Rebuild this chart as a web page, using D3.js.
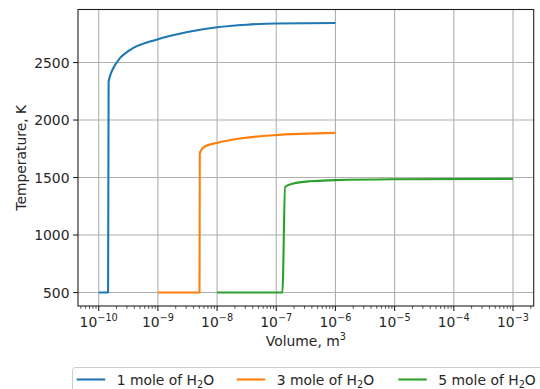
<!DOCTYPE html>
<html>
<head>
<meta charset="utf-8">
<script src="https://cdn.jsdelivr.net/npm/d3@7"></script>
<style>
  html, body { margin: 0; padding: 0; background: #fff; }
  svg { display: block; font-family: "DejaVu Sans", sans-serif; }
</style>
</head>
<body>
<svg id="chart" width="540" height="389"></svg>
<script>
// Temperature reached versus confinement volume for three water amounts
const seriesNames = ["1 mole of H", "3 mole of H", "5 mole of H"];
const seriesColors = ["#1f77b4", "#ff7f0e", "#2ca02c"];

const volume1 = [1e-10, 1.44e-10, 1.47e-10, 1.57e-10, 1.75e-10, 2.3e-10, 3.16e-10, 1e-9, 3.16e-9, 1e-8, 3.16e-8, 1e-7, 1e-6];
const temp1   = [500, 500, 2331, 2390, 2448, 2540, 2600, 2703, 2766, 2807, 2829, 2840, 2844];

const volume3 = [1e-9, 5.05e-9, 5.1e-9, 5.41e-9, 6.3e-9, 9.93e-9, 2.45e-8, 8.93e-8, 1e-6];
const temp3   = [500, 500, 1709, 1740, 1772, 1801, 1839, 1868, 1888];

const volume5 = [1e-8, 1.27e-7, 1.41e-7, 1.94e-7, 3.72e-7, 1.0e-6, 9.4e-6, 1e-3];
const temp5   = [500, 500, 1418, 1448, 1468, 1477, 1485, 1488];

const xTickExponents = [-10, -9, -8, -7, -6, -5, -4, -3];
const yTicks = [500, 1000, 1500, 2000, 2500];

const series = [
  { name: seriesNames[0], color: seriesColors[0], v: volume1, t: temp1 },
  { name: seriesNames[1], color: seriesColors[1], v: volume3, t: temp3 },
  { name: seriesNames[2], color: seriesColors[2], v: volume5, t: temp5 }
];

const svg = d3.select("#chart");
const plot = { left: 78, top: 9.5, right: 533.7, bottom: 306 };
const fontSize = 13.9;

// Domains padded by 5% like the default autoscale
const xLo = Math.log10(1e-10), xHi = Math.log10(1e-3);
const xPad = (xHi - xLo) * 0.05;
const x = d3.scaleLog()
  .domain([Math.pow(10, xLo - xPad), Math.pow(10, xHi + xPad)])
  .range([plot.left, plot.right]);

const allT = temp1.concat(temp3, temp5);
const tMin = d3.min(allT), tMax = d3.max(allT);
const tPad = (tMax - tMin) * 0.05;
const y = d3.scaleLinear()
  .domain([tMin - tPad, tMax + tPad])
  .range([plot.bottom, plot.top]);

// Grid
const grid = svg.append("g").attr("stroke", "#b0b0b0").attr("stroke-width", 1.1);
xTickExponents.forEach(e => {
  const px = x(Math.pow(10, e));
  grid.append("line").attr("x1", px).attr("x2", px).attr("y1", plot.top).attr("y2", plot.bottom);
});
yTicks.forEach(v => {
  grid.append("line").attr("x1", plot.left).attr("x2", plot.right).attr("y1", y(v)).attr("y2", y(v));
});

// Curves
const line = d3.line()
  .x(d => x(d[0]))
  .y(d => y(d[1]))
  .curve(d3.curveMonotoneX);

series.forEach(s => {
  svg.append("path")
    .datum(s.v.map((v, i) => [v, s.t[i]]))
    .attr("fill", "none")
    .attr("stroke", s.color)
    .attr("stroke-width", 2.1)
    .attr("stroke-linejoin", "round")
    .attr("d", line);
});

// Frame
svg.append("rect")
  .attr("x", plot.left).attr("y", plot.top)
  .attr("width", plot.right - plot.left).attr("height", plot.bottom - plot.top)
  .attr("fill", "none").attr("stroke", "#222").attr("stroke-width", 1.1);

// X axis: major and minor log ticks
const xAxis = svg.append("g").attr("stroke", "#222").attr("stroke-width", 1.1);
const [d0, d1] = x.domain();
for (let e = -11; e <= -2; e++) {
  for (let m = 1; m <= 9; m++) {
    const v = m * Math.pow(10, e);
    if (v < d0 || v > d1) continue;
    const px = x(v);
    const len = m === 1 ? 4.9 : 2.8;
    xAxis.append("line").attr("x1", px).attr("x2", px)
      .attr("y1", plot.bottom).attr("y2", plot.bottom + len)
      .attr("stroke-width", m === 1 ? 1.1 : 0.8);
  }
}
xTickExponents.forEach(e => {
  const t = svg.append("text")
    .attr("x", x(Math.pow(10, e)))
    .attr("y", plot.bottom + 20.5)
    .attr("text-anchor", "middle")
    .attr("font-size", fontSize)
    .attr("fill", "#262626");
  t.append("tspan").text("10");
  t.append("tspan").attr("font-size", fontSize * 0.7).attr("dy", -6).text("\u2212" + Math.abs(e));
});

// Y axis ticks
yTicks.forEach(v => {
  svg.append("line")
    .attr("x1", plot.left - 4.9).attr("x2", plot.left)
    .attr("y1", y(v)).attr("y2", y(v))
    .attr("stroke", "#222").attr("stroke-width", 1.1);
  svg.append("text")
    .attr("x", plot.left - 8.5)
    .attr("y", y(v))
    .attr("dy", "0.36em")
    .attr("text-anchor", "end")
    .attr("font-size", fontSize)
    .attr("fill", "#262626")
    .text(v);
});

// Axis titles
const xl = svg.append("text")
  .attr("x", (plot.left + plot.right) / 2)
  .attr("y", plot.bottom + 39.5)
  .attr("text-anchor", "middle")
  .attr("font-size", fontSize)
  .attr("fill", "#262626");
xl.append("tspan").text("Volume, m");
xl.append("tspan").attr("font-size", fontSize * 0.7).attr("dy", -6).text("3");

svg.append("text")
  .attr("transform", `translate(26,${(plot.top + plot.bottom) / 2}) rotate(-90)`)
  .attr("text-anchor", "middle")
  .attr("font-size", fontSize)
  .attr("fill", "#262626")
  .text("Temperature, K");

// Legend below the axes
const legend = svg.append("g");
legend.append("rect")
  .attr("x", 72.5).attr("y", 367.5)
  .attr("width", 480).attr("height", 32)
  .attr("rx", 3)
  .attr("fill", "#fff").attr("fill-opacity", 0.8)
  .attr("stroke", "#cccccc").attr("stroke-width", 1);

const legendX = [76.7, 236.7, 398.3];
series.forEach((s, i) => {
  const lx = legendX[i];
  legend.append("line")
    .attr("x1", lx).attr("x2", lx + 28.5)
    .attr("y1", 379.5).attr("y2", 379.5)
    .attr("stroke", s.color).attr("stroke-width", 2.1);
  const t = legend.append("text")
    .attr("x", lx + 40)
    .attr("y", 384.5)
    .attr("font-size", fontSize)
    .attr("fill", "#262626");
  t.append("tspan").text(s.name);
  t.append("tspan").attr("font-size", fontSize * 0.7).attr("dy", 3).text("2");
  t.append("tspan").attr("dy", -3).text("O");
});
</script>
</body>
</html>
